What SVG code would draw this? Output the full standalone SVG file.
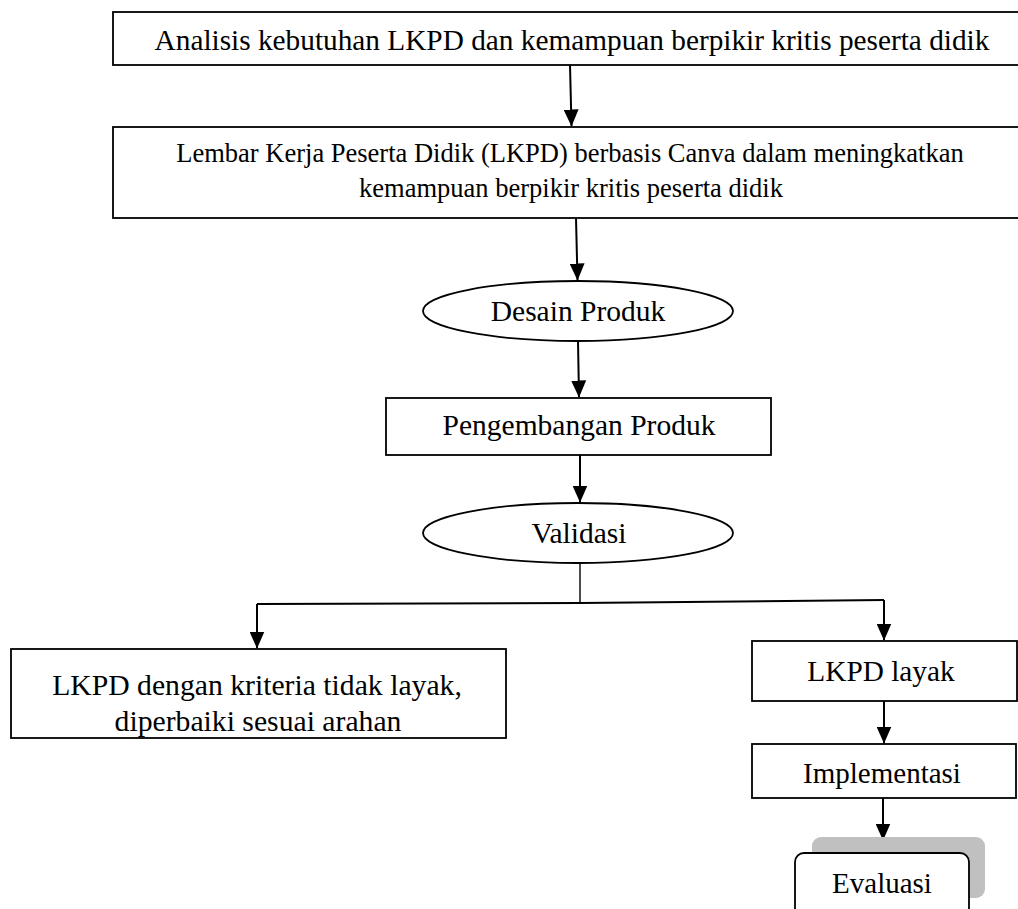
<svg xmlns="http://www.w3.org/2000/svg" width="1018" height="909" viewBox="0 0 1018 909">
<style>
  .box { fill: #ffffff; stroke: #000000; stroke-width: 1.8; }
  .t { font-family: "Liberation Serif", "Times New Roman", serif; fill: #000000; text-anchor: middle; }
  .conn { fill: none; stroke: #000000; stroke-width: 2; }
</style>
<defs>
  <marker id="ah" markerUnits="userSpaceOnUse" markerWidth="17" markerHeight="15" refX="16.5" refY="7.5" orient="auto" viewBox="0 0 17 15">
    <path d="M0,0 L17,7.5 L0,15 Z" fill="#000000"/>
  </marker>
</defs>
<rect width="1018" height="909" fill="#ffffff"/>

<g id="connectors">
  <line class="conn" x1="570" y1="65" x2="571.5" y2="126" marker-end="url(#ah)"/>
  <line class="conn" x1="576" y1="218" x2="577.5" y2="280" marker-end="url(#ah)"/>
  <line class="conn" x1="578" y1="341" x2="579" y2="397" marker-end="url(#ah)"/>
  <line class="conn" x1="580" y1="455" x2="580" y2="502" marker-end="url(#ah)"/>
  <line class="conn" x1="580" y1="563" x2="580" y2="603" style="stroke-width:1.4"/>
  <polyline class="conn" points="257,604 580,603 884,600"/>
  <line class="conn" x1="257" y1="604" x2="257" y2="648" marker-end="url(#ah)"/>
  <line class="conn" x1="884" y1="600" x2="884" y2="640" marker-end="url(#ah)"/>
  <line class="conn" x1="884" y1="701" x2="884" y2="743" marker-end="url(#ah)"/>
  <line class="conn" x1="883" y1="798" x2="883" y2="840" marker-end="url(#ah)"/>
</g>

<g id="n-analisis">
  <rect class="box" x="113" y="12" width="920" height="53"/>
  <text class="t" x="572" y="50" font-size="29.3">Analisis kebutuhan LKPD dan kemampuan berpikir kritis peserta didik</text>
</g>

<g id="n-lkpd">
  <rect class="box" x="113" y="127" width="920" height="91"/>
  <text class="t" x="570" y="162" font-size="26.5">Lembar Kerja Peserta Didik (LKPD) berbasis Canva dalam meningkatkan</text>
  <text class="t" x="571" y="197" font-size="26.5">kemampuan berpikir kritis peserta didik</text>
</g>

<g id="n-desain">
  <ellipse class="box" cx="578" cy="311" rx="155" ry="30"/>
  <text class="t" x="578" y="321" font-size="29.5">Desain Produk</text>
</g>

<g id="n-pengembangan">
  <rect class="box" x="386" y="398" width="385" height="57"/>
  <text class="t" x="579" y="435" font-size="29.5">Pengembangan Produk</text>
</g>

<g id="n-validasi">
  <ellipse class="box" cx="578" cy="533" rx="155" ry="30"/>
  <text class="t" x="579" y="543" font-size="29.5">Validasi</text>
</g>

<g id="n-tidaklayak">
  <rect class="box" x="11" y="649" width="495" height="89"/>
  <text class="t" x="257" y="695" font-size="29.7">LKPD dengan kriteria tidak layak,</text>
  <text class="t" x="258" y="731" font-size="29.7">diperbaiki sesuai arahan</text>
</g>

<g id="n-layak">
  <rect class="box" x="752" y="641" width="265" height="60"/>
  <text class="t" x="881" y="681" font-size="29.3">LKPD layak</text>
</g>

<g id="n-implementasi">
  <rect class="box" x="752" y="744" width="264" height="54"/>
  <text class="t" x="882" y="783" font-size="29">Implementasi</text>
</g>

<g id="n-evaluasi">
  <rect x="812" y="837" width="173" height="61" rx="9" fill="#c0c0c0"/>
  <rect class="box" x="795" y="853" width="174" height="70" rx="9"/>
  <text class="t" x="882" y="893" font-size="29">Evaluasi</text>
</g>
</svg>
